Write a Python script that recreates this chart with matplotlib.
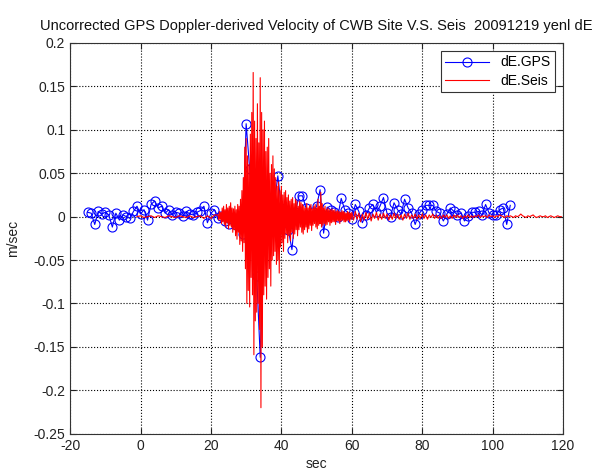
import matplotlib
matplotlib.use('Agg')
import matplotlib.pyplot as plt
import numpy as np

plt.rcParams['font.family'] = ['Liberation Sans', 'DejaVu Sans']
plt.rcParams['axes.unicode_minus'] = False

# GPS doppler velocity, 1 Hz, t = -15 .. 105 s
gps_t0 = -15
gps_vals = [
    0.005, 0.004, -0.009, 0.006, 0.003, 0.005, 0.002, -0.012, 0.004, -0.004,   # -15..-6
    0.002, 0.000, -0.002, 0.006, 0.012, 0.003, 0.008, -0.004, 0.014, 0.018,    # -5..4
    0.010, 0.012, 0.004, 0.008, 0.002, 0.005, 0.004, 0.001, 0.006, 0.003,     # 5..14
    0.002, 0.005, 0.007, 0.012, -0.007, 0.004, 0.008, -0.002, 0.001, -0.005,   # 15..24
    -0.008, -0.003, -0.010, -0.008, -0.020, 0.107, 0.055, -0.010, -0.068, -0.162,  # 25..34
    -0.020, 0.020, -0.010, 0.015, 0.047, 0.010, 0.005, -0.015, -0.038, 0.005,  # 35..44
    0.024, 0.024, 0.010, 0.000, 0.005, 0.012, 0.031, -0.019, 0.011, 0.008,    # 45..54
    0.005, 0.000, 0.021, 0.008, 0.004, -0.003, 0.014, 0.006, -0.007, 0.002,   # 55..64
    0.010, 0.014, 0.005, 0.012, 0.022, 0.004, 0.000, 0.016, 0.008, 0.003,     # 65..74
    0.020, 0.010, 0.004, -0.009, 0.003, 0.008, 0.013, 0.013, 0.013, 0.006,    # 75..84
    0.004, -0.005, 0.003, 0.010, 0.006, 0.002, 0.004, -0.005, 0.001, 0.005,   # 85..94
    0.005, 0.006, 0.002, 0.014, 0.004, 0.002, 0.002, 0.008, 0.010, -0.009,    # 95..104
    0.013,                                                                    # 105
]

# seismic velocity, pre-event part, 1 s step from -1 s
seis_a_t0 = -1
seis_a = [
    0.000, 0.001, -0.001, 0.000, 0.001, -0.001, 0.001, 0.000, -0.001, 0.001,
    0.000, -0.001, 0.001, 0.000, -0.001, 0.001, -0.001, 0.000, 0.001, -0.002,
    0.001, -0.002, 0.002,
]

# strong motion part, 0.2 s step from 22 s to 60 s
seis_b_t0 = 22
seis_b = [
    0.002, -0.004, 0.006, -0.003, 0.005,
    -0.008, 0.010, -0.006, 0.012, -0.009,
    0.008, -0.012, 0.014, -0.007, 0.010,
    -0.014, 0.012, -0.010, 0.016, -0.012,
    0.010, -0.018, 0.009, -0.015, 0.012,
    -0.022, 0.008, -0.026, 0.014, -0.018,
    0.012, -0.032, 0.020, -0.028, 0.030,
    -0.040, 0.045, -0.030, 0.080, -0.060,
    0.090, -0.100, 0.070, -0.085, 0.060,
    -0.104, 0.095, -0.070, 0.120, -0.090,
    0.166, -0.159, 0.110, -0.120, 0.090,
    -0.110, 0.130, -0.100, 0.085, -0.130,
    0.160, -0.220, 0.120, -0.150, 0.100,
    -0.090, 0.110, -0.080, 0.075, -0.095,
    0.080, -0.070, 0.090, -0.060, 0.050,
    -0.080, 0.060, -0.050, 0.070, -0.045,
    0.055, -0.040, 0.045, -0.055, 0.035,
    -0.050, 0.040, -0.065, 0.030, -0.035,
    0.035, -0.030, 0.025, -0.040, 0.028,
    -0.025, 0.030, -0.020, 0.022, -0.030,
    0.025, -0.022, 0.018, -0.028, 0.020,
    -0.018, 0.022, -0.025, 0.015, -0.020,
    0.020, -0.015, 0.018, -0.022, 0.012,
    -0.015, 0.018, -0.012, 0.016, -0.018,
    0.014, -0.020, 0.012, -0.015, 0.010,
    -0.012, 0.015, -0.018, 0.010, -0.014,
    0.012, -0.010, 0.014, -0.016, 0.009,
    -0.010, 0.012, -0.008, 0.014, -0.012,
    0.010, -0.014, 0.020, -0.010, 0.012,
    -0.008, 0.028, -0.012, 0.015, -0.010,
    0.010, -0.008, 0.012, -0.010, 0.008,
    -0.009, 0.010, -0.006, 0.008, -0.010,
    0.008, -0.007, 0.009, -0.006, 0.007,
    -0.006, 0.008, -0.009, 0.006, -0.005,
    0.007, -0.005, 0.006, -0.008, 0.005,
    -0.005, 0.007, -0.004, 0.006, -0.006,
    0.005, -0.006, 0.004, -0.005, 0.006,
    -0.004, 0.005, -0.006, 0.004, -0.003,
]

# coda, 0.5 s step from 60 s to 120 s
seis_c_t0 = 60
seis_c = [
    0.005, -0.004, 0.006, -0.003, 0.004, -0.006, 0.003, -0.004, 0.005, -0.003,
    0.004, -0.005, 0.003, -0.002, 0.005, -0.004, 0.003, -0.003, 0.004, -0.002,
    0.003, -0.004, 0.002, -0.003, 0.004, -0.002, 0.003, -0.003, 0.002, -0.004,
    0.003, -0.002, 0.004, -0.003, 0.002, -0.002, 0.003, -0.003, 0.002, -0.002,
    0.003, -0.002, 0.002, -0.003, 0.002, -0.001, 0.003, -0.002, 0.002, -0.002,
    0.001, -0.002, 0.002, -0.001, 0.002, -0.002, 0.001, -0.002, 0.002, -0.001,
    0.002, -0.001, 0.001, -0.002, 0.001, -0.001, 0.002, -0.001, 0.001, -0.001,
    0.001, 0.000, 0.002, -0.001, 0.001, 0.000, 0.001, -0.001, 0.002, 0.000,
    0.001, -0.001, 0.001, 0.000, 0.002, 0.001, 0.000, -0.001, 0.001, 0.000,
    0.001, 0.000, -0.001, 0.001, 0.000, 0.001, 0.003, 0.001, 0.000, -0.001,
    0.001, 0.000, 0.001, 0.002, 0.000, -0.001, 0.000, 0.001, 0.000, 0.000,
    0.001, -0.001, 0.000, 0.001, 0.000, -0.001, 0.000, 0.001, 0.000, 0.000,
]

gps_t = gps_t0 + np.arange(len(gps_vals))
seis_t = np.concatenate([seis_a_t0 + np.arange(len(seis_a)) * 1.0,
                         seis_b_t0 + np.arange(len(seis_b)) * 0.2,
                         seis_c_t0 + np.arange(len(seis_c)) * 0.5])
seis_vals = np.array(seis_a + seis_b + seis_c)

fig = plt.figure(figsize=(5.99, 4.72), dpi=100)
ax = fig.add_axes([0.117, 0.081, 0.823, 0.828])

ax.plot(gps_t, gps_vals, '-o', color='#0000ff', lw=0.8, ms=6.5,
        mfc='none', mew=0.8, label='dE.GPS')
ax.plot(seis_t, seis_vals, '-', color='#ff0000', lw=0.8, label='dE.Seis')

ax.set_xlim(-20, 120)
ax.set_ylim(-0.25, 0.2)
ax.set_xticks(np.arange(-20, 121, 20))
ax.set_yticks(np.arange(-0.25, 0.201, 0.05))
ax.set_yticklabels(['-0.25', '-0.2', '-0.15', '-0.1', '-0.05', '0',
                    '0.05', '0.1', '0.15', '0.2'])
ax.grid(True, linestyle=':', color='black', lw=0.8)
ax.tick_params(direction='in', top=True, right=True, labelsize=10,
               colors='#222222', length=4)
for s in ax.spines.values():
    s.set_color('#333333')

ax.set_xlabel('sec', fontsize=10, color='#222222', labelpad=3)
ax.set_ylabel('m/sec', fontsize=10, color='#222222', labelpad=10)
ax.set_title('Uncorrected GPS Doppler-derived Velocity of CWB Site V.S. Seis  20091219 yenl dE',
             fontsize=10.5, color='#111111', pad=9)

leg = ax.legend(loc='upper right', fontsize=10, fancybox=False,
                edgecolor='#333333', framealpha=1, handlelength=3.2,
                borderaxespad=0.6, borderpad=0.3, labelspacing=0.3)
leg.get_frame().set_linewidth(0.8)

fig.savefig('out.png', dpi=100)
